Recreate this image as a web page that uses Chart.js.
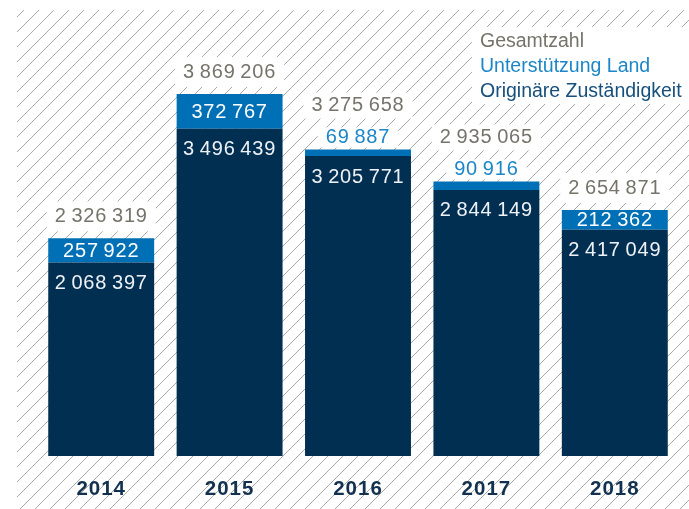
<!DOCTYPE html>
<html>
<head>
<meta charset="utf-8">
<script src="https://cdn.jsdelivr.net/npm/chart.js@4/dist/chart.umd.min.js"></script>
<style>
  body { margin: 0; background: #fff; }
  #wrap { width: 689px; height: 509px; position: relative; }
</style>
</head>
<body>
<div id="wrap"><canvas id="chart"></canvas></div>
<script>
const years = ['2014', '2015', '2016', '2017', '2018'];
const originaer = [2068397, 3496439, 3205771, 2844149, 2417049];
const unterstuetzung = [257922, 372767, 69887, 90916, 212362];
const gesamt = [2326319, 3869206, 3275658, 2935065, 2654871];
const legendLabels = ['Gesamtzahl', 'Unterstützung Land', 'Originäre Zuständigkeit'];

const DARK = '#002f52';
const BLUE = '#0070b6';
const GREY_TEXT = '#76746a';
const FONT = '"Liberation Sans", Arial, sans-serif';

function fmt(n) {
    return String(n).replace(/\B(?=(\d{3})+(?!\d))/g, '\u2009');
}

// diagonal hatch behind everything
const hatchPlugin = {
    id: 'hatch',
    beforeDraw(chart) {
        const ctx = chart.ctx;
        ctx.save();
        ctx.beginPath();
        ctx.rect(17, 10, 672, 499);
        ctx.clip();
        ctx.strokeStyle = '#a0a0a0';
        ctx.lineWidth = 0.9;
        for (let x = -520; x < 700; x += 15) {
            ctx.beginPath();
            ctx.moveTo(x, 509);
            ctx.lineTo(x + 499, 10);
            ctx.stroke();
        }
        ctx.restore();
    }
};

function boxedText(ctx, text, x, y, color, h, minW) {
    const w = Math.max(ctx.measureText(text).width + 16, minW || 0);
    ctx.fillStyle = '#fff';
    ctx.fillRect(x - w / 2, y - h / 2, w, h);
    ctx.fillStyle = color;
    ctx.fillText(text, x, y);
}

const labelPlugin = {
    id: 'labels',
    afterDatasetsDraw(chart) {
        const ctx = chart.ctx;
        const dark = chart.getDatasetMeta(0).data;
        const blue = chart.getDatasetMeta(1).data;
        ctx.save();
        ctx.textAlign = 'center';
        ctx.textBaseline = 'middle';
        ctx.font = '20px ' + FONT;
        ctx.letterSpacing = '0.8px';
        years.forEach((y, i) => {
            const b = blue[i], d = dark[i];
            const top = b.y;
            const segH = b.base - b.y;
            // dark segment value
            ctx.fillStyle = '#eef2f6';
            ctx.fillText(fmt(originaer[i]), d.x, d.y + 21);
            if (segH > 15) {
                ctx.fillStyle = '#ffffff';
                ctx.fillText(fmt(unterstuetzung[i]), b.x, (b.y + b.base) / 2 + 1);
                boxedText(ctx, fmt(gesamt[i]), b.x, top - 22, GREY_TEXT, 30, b.width);
            } else {
                boxedText(ctx, fmt(unterstuetzung[i]), b.x, top - 12, '#1c86c8', 20);
                boxedText(ctx, fmt(gesamt[i]), b.x, top - 44, GREY_TEXT, 26, b.width);
            }
        });
        // year labels
        ctx.font = 'bold 20.5px ' + FONT;
        ctx.letterSpacing = '1px';
        ctx.fillStyle = '#12304f';
        years.forEach((y, i) => {
            ctx.fillText(y, chart.scales.x.getPixelForValue(i), 489);
        });
        // legend box
        ctx.fillStyle = '#fff';
        ctx.fillRect(472, 27, 217, 77);
        ctx.textAlign = 'left';
        ctx.font = '19.5px ' + FONT;
        ctx.letterSpacing = '0px';
        const colors = [GREY_TEXT, '#1c86c8', '#17507c'];
        legendLabels.forEach((t, i) => {
            ctx.fillStyle = colors[i];
            ctx.fillText(t, 480, 42 + i * 25);
        });
        ctx.restore();
    }
};

new Chart(document.getElementById('chart'), {
    type: 'bar',
    data: {
        labels: years,
        datasets: [
            { label: legendLabels[2], data: originaer, backgroundColor: DARK },
            { label: legendLabels[1], data: unterstuetzung, backgroundColor: BLUE }
        ]
    },
    options: {
        responsive: true,
        maintainAspectRatio: false,
        animation: false,
        layout: { padding: { left: 37, right: 10, top: 10, bottom: 53 } },
        datasets: { bar: { barPercentage: 0.825, categoryPercentage: 1 } },
        plugins: { legend: { display: false }, tooltip: { enabled: false } },
        scales: {
            x: { stacked: true, display: false },
            y: { stacked: true, display: false, min: 0, max: 4767000 }
        }
    },
    plugins: [hatchPlugin, labelPlugin]
});
</script>
</body>
</html>
